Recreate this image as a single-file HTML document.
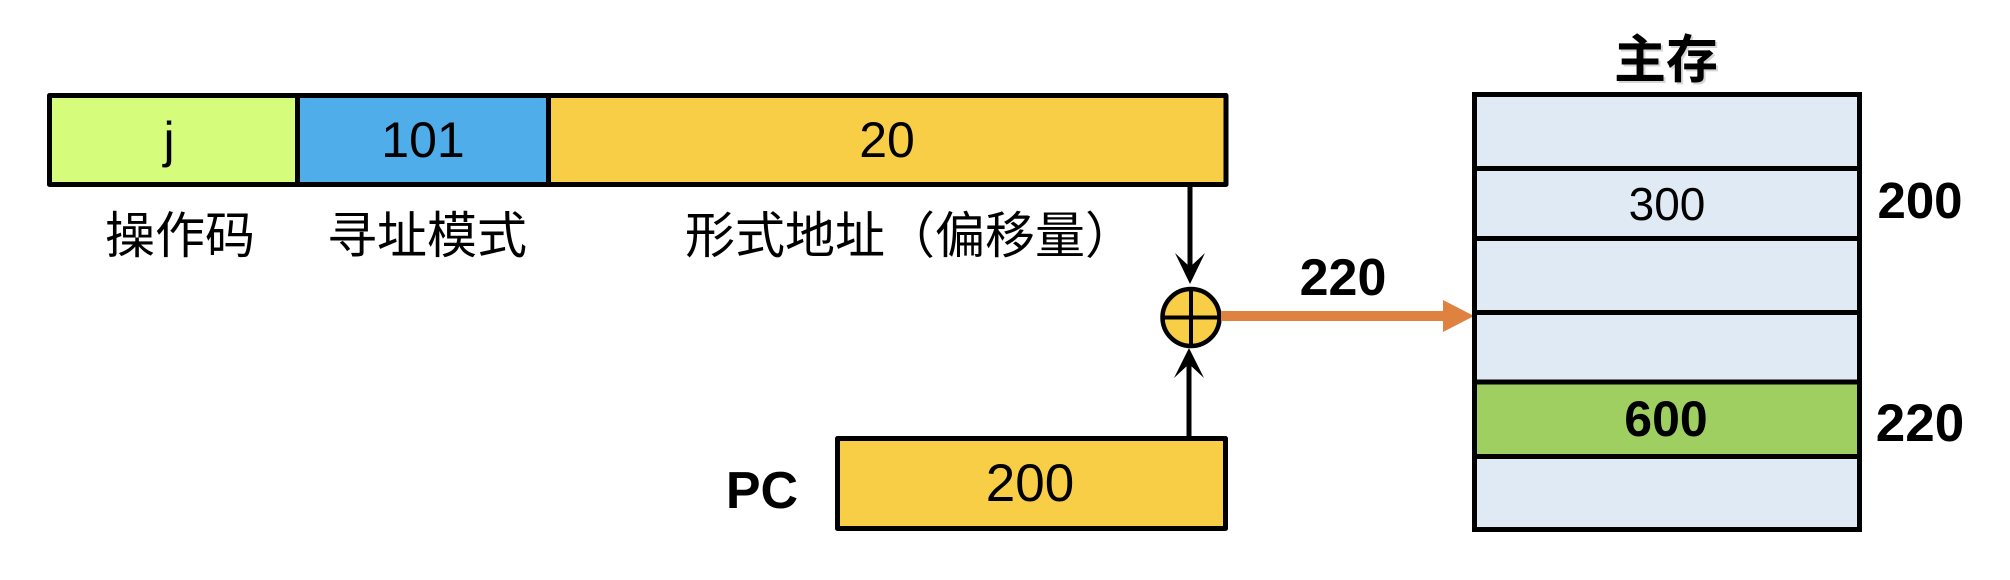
<!DOCTYPE html>
<html>
<head>
<meta charset="utf-8">
<style>
  html, body { margin: 0; padding: 0; background: #ffffff; }
  body { width: 2010px; height: 580px; overflow: hidden; }
  svg { display: block; }
  text { font-family: "Liberation Sans", "Noto Sans CJK SC", sans-serif; fill: #000; }
  .cjk { font-family: "Noto Sans CJK SC", "WenQuanYi Zen Hei", sans-serif; }
</style>
</head>
<body>
<svg width="2010" height="580" viewBox="0 0 2010 580" xmlns="http://www.w3.org/2000/svg">
  <!-- Instruction word -->
  <rect x="49.5" y="95.5" width="248" height="89" fill="#D5FC7A"/>
  <rect x="297.5" y="95.5" width="251" height="89" fill="#4FADEA"/>
  <rect x="548.5" y="95.5" width="677" height="89" fill="#F7CE45"/>
  <rect x="49.5" y="95.5" width="1176.5" height="89" fill="none" stroke="#000" stroke-width="5" stroke-linejoin="round"/>
  <line x1="297.5" y1="95.5" x2="297.5" y2="184.5" stroke="#000" stroke-width="5"/>
  <line x1="548.5" y1="95.5" x2="548.5" y2="184.5" stroke="#000" stroke-width="5"/>

  <text x="169" y="157" font-size="50" text-anchor="middle">j</text>
  <text x="423" y="157" font-size="50" text-anchor="middle">101</text>
  <text x="887" y="157" font-size="50" text-anchor="middle">20</text>

  <text class="cjk" x="180" y="253" font-size="50" text-anchor="middle">操作码</text>
  <text class="cjk" x="427" y="253" font-size="50" text-anchor="middle">寻址模式</text>
  <text class="cjk" x="910" y="253" font-size="50" text-anchor="middle">形式地址（偏移量）</text>

  <!-- Down arrow from offset field to adder -->
  <line x1="1190" y1="186" x2="1190" y2="270" stroke="#000" stroke-width="5"/>
  <path d="M1190,284 L1175,253 L1190,267 L1205,253 Z" fill="#000"/>

  <!-- Adder -->
  <circle cx="1191" cy="317.5" r="28.5" fill="#F7CE45" stroke="#000" stroke-width="4.5"/>
  <line x1="1191" y1="289" x2="1191" y2="346" stroke="#000" stroke-width="4"/>
  <line x1="1162.5" y1="317.5" x2="1219.5" y2="317.5" stroke="#000" stroke-width="4"/>

  <!-- Up arrow from PC to adder -->
  <line x1="1189" y1="437" x2="1189" y2="362" stroke="#000" stroke-width="5"/>
  <path d="M1189,348 L1174,378 L1189,364 L1204,378 Z" fill="#000"/>

  <!-- PC register -->
  <text x="762" y="508" font-size="52" font-weight="bold" text-anchor="middle">PC</text>
  <rect x="837.5" y="438.5" width="388" height="90" fill="#F7CE45" stroke="#000" stroke-width="5" stroke-linejoin="round"/>
  <text x="1030" y="501" font-size="53" text-anchor="middle">200</text>

  <!-- Orange arrow -->
  <line x1="1221" y1="316" x2="1446" y2="316" stroke="#E0823F" stroke-width="10"/>
  <polygon points="1443,300 1474,316 1443,332" fill="#E0823F"/>
  <text x="1343" y="295" font-size="52" font-weight="bold" text-anchor="middle">220</text>

  <!-- Main memory -->
  <text class="cjk" x="1668" y="80" font-size="52" font-weight="bold" text-anchor="middle" style="fill:#bbbbbb" opacity="0.6">主存</text>
  <text class="cjk" x="1666" y="78" font-size="52" font-weight="bold" text-anchor="middle">主存</text>

  <rect x="1474.5" y="94.5" width="385" height="435" fill="#DFEAF5"/>
  <rect x="1474.5" y="382" width="385" height="74.5" fill="#9FCF61"/>
  <rect x="1474.5" y="94.5" width="385" height="435" fill="none" stroke="#000" stroke-width="5"/>
  <line x1="1474.5" y1="168.5" x2="1859.5" y2="168.5" stroke="#000" stroke-width="5"/>
  <line x1="1474.5" y1="238.5" x2="1859.5" y2="238.5" stroke="#000" stroke-width="5"/>
  <line x1="1474.5" y1="312.5" x2="1859.5" y2="312.5" stroke="#000" stroke-width="5"/>
  <line x1="1474.5" y1="382" x2="1859.5" y2="382" stroke="#000" stroke-width="5"/>
  <line x1="1474.5" y1="456.5" x2="1859.5" y2="456.5" stroke="#000" stroke-width="5"/>

  <text x="1667" y="220" font-size="46" text-anchor="middle">300</text>
  <text x="1666" y="436" font-size="50" font-weight="bold" text-anchor="middle">600</text>

  <text x="1920" y="218" font-size="51" font-weight="bold" text-anchor="middle">200</text>
  <text x="1920" y="441" font-size="53" font-weight="bold" text-anchor="middle">220</text>
</svg>
</body>
</html>
